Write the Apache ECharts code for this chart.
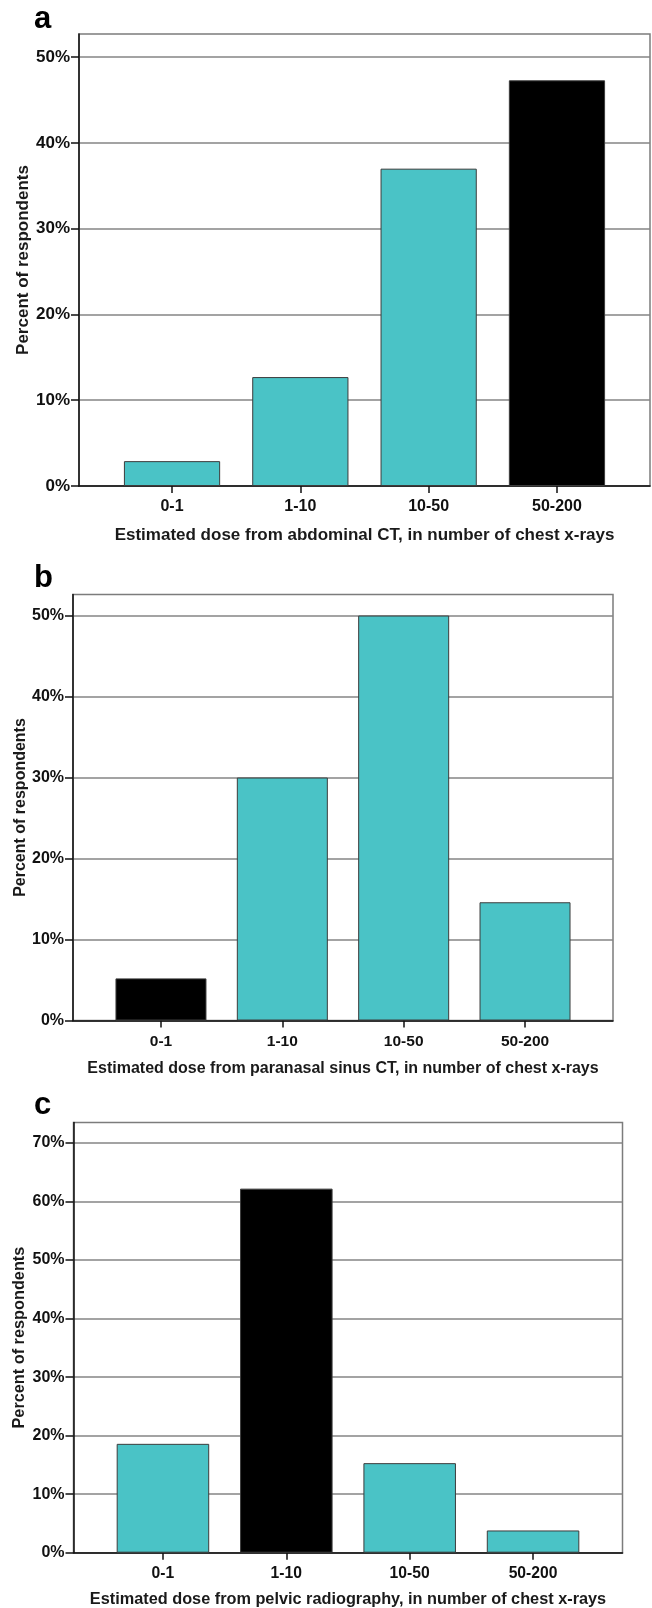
<!DOCTYPE html>
<html>
<head>
<meta charset="utf-8">
<script src="https://cdn.jsdelivr.net/npm/echarts@6/dist/echarts.min.js"></script>
<style>
html,body{margin:0;padding:0;background:#fff;}
#chart{width:652px;height:1608px;}
</style>
</head>
<body>
<div id="chart"></div>
<script>
// ---- data ----
const categories = ['0-1', '1-10', '10-50', '50-200'];
const valuesA = [2.9, 12.7, 37.0, 47.3];   // abdominal CT
const valuesB = [5.2, 30.0, 50.0, 14.6];   // paranasal sinus CT
const valuesC = [18.6, 62.2, 15.3, 3.8];   // pelvic radiography
const correctA = 3;  // index of the correct (black) bar
const correctB = 0;
const correctC = 1;
const yMaxA = 52.7, yMaxB = 52.6, yMaxC = 73.5;
const yTickStep = 10;
const panelLetters = ['a', 'b', 'c'];
const xTitles = [
  'Estimated dose from abdominal CT, in number of chest x-rays',
  'Estimated dose from paranasal sinus CT, in number of chest x-rays',
  'Estimated dose from pelvic radiography, in number of chest x-rays'
];
const yTitle = 'Percent of respondents';

// ---- layout / style ----
const FONT = '"Liberation Sans", Arial, Helvetica, sans-serif';
const CYAN = '#4ac3c6';
const panels = [
  {values: valuesA, hl: correctA, yMax: yMaxA, left: 79, right: 650, top: 34, bottom: 486,
   letterY: 19.5, fy: 17, fx: 16, fName: 17, fY: 17, yGap: 47, xGap: 41, lblMargin: 13},
  {values: valuesB, hl: correctB, yMax: yMaxB, left: 73, right: 613, top: 594.5, bottom: 1020.5,
   letterY: 578, fy: 16, fx: 15.5, fName: 16, fY: 16, yGap: 44, xGap: 40, lblMargin: 13},
  {values: valuesC, hl: correctC, yMax: yMaxC, left: 73.5, right: 622.5, top: 1122.5, bottom: 1552.7,
   letterY: 1105, fy: 16, fx: 15.7, fName: 16.3, fY: 16.3, yGap: 46, xGap: 39, lblMargin: 13}
];
const X_MIN = -0.725, X_MAX = 3.725;
const catIdx = categories.map((c, i) => i);
const yTickVals = (max) => { const a = []; for (let v = 0; v <= max; v += yTickStep) a.push(v); return a; };

const grids = [], xAxes = [], yAxes = [], series = [], graphics = [];
panels.forEach((p, i) => {
  const w = p.right - p.left;
  grids.push({left: p.left, top: p.top, width: w, height: p.bottom - p.top,
    show: true, borderColor: '#7c7c7c', borderWidth: 1.5, backgroundColor: '#fff',
    containLabel: false, outerBoundsMode: 'none'});
  xAxes.push({
    gridIndex: i, type: 'value', min: X_MIN, max: X_MAX, position: 'bottom',
    axisLine: {show: true, onZero: false, lineStyle: {color: '#111', width: 1.5}},
    axisTick: {show: true, customValues: catIdx, length: 7, lineStyle: {color: '#111', width: 1.5}},
    axisLabel: {show: true, customValues: catIdx, formatter: v => categories[Math.round(v)],
      margin: p.lblMargin, fontSize: p.fx, fontWeight: 'bold', color: '#111', fontFamily: FONT},
    splitLine: {show: false},
    name: xTitles[i], nameLocation: 'middle', nameGap: p.xGap, nameMoveOverlap: false,
    nameTextStyle: {fontSize: p.fName, fontWeight: 'bold', color: '#1a1a1a', fontFamily: FONT}
  });
  yAxes.push({
    gridIndex: i, type: 'value', min: 0, max: p.yMax, interval: yTickStep, position: 'left',
    axisLine: {show: true, onZero: false, lineStyle: {color: '#111', width: 1.5}},
    axisTick: {show: true, customValues: yTickVals(p.yMax), length: 8, lineStyle: {color: '#111', width: 1.5}},
    axisLabel: {show: true, customValues: yTickVals(p.yMax), formatter: v => v + '%',
      margin: 9, fontSize: p.fy, fontWeight: 'bold', color: '#111', fontFamily: FONT},
    splitLine: {show: true, lineStyle: {color: '#858585', width: 1.5}},
    name: yTitle, nameLocation: 'middle', nameGap: p.yGap, nameRotate: 90, nameMoveOverlap: false,
    nameTextStyle: {fontSize: p.fY, fontWeight: 'bold', color: '#1a1a1a', fontFamily: FONT}
  });
  const barW = 0.75 * w / (X_MAX - X_MIN);
  series.push({
    type: 'bar', xAxisIndex: i, yAxisIndex: i, barWidth: barW,
    itemStyle: {borderColor: '#3c3c3c', borderWidth: 1},
    emphasis: {disabled: true},
    data: p.values.map((v, j) => ({value: [j, v], itemStyle: {color: j === p.hl ? '#000' : CYAN}}))
  });
  graphics.push({type: 'text', x: 34, y: p.letterY,
    style: {text: panelLetters[i], font: 'bold 31px ' + FONT, fill: '#000', textAlign: 'left', textVerticalAlign: 'middle'}});
});

const chart = echarts.init(document.getElementById('chart'), null, {renderer: 'canvas'});
chart.setOption({
  animation: false,
  backgroundColor: '#fff',
  grid: grids, xAxis: xAxes, yAxis: yAxes, series: series,
  graphic: graphics
});
</script>
</body>
</html>
